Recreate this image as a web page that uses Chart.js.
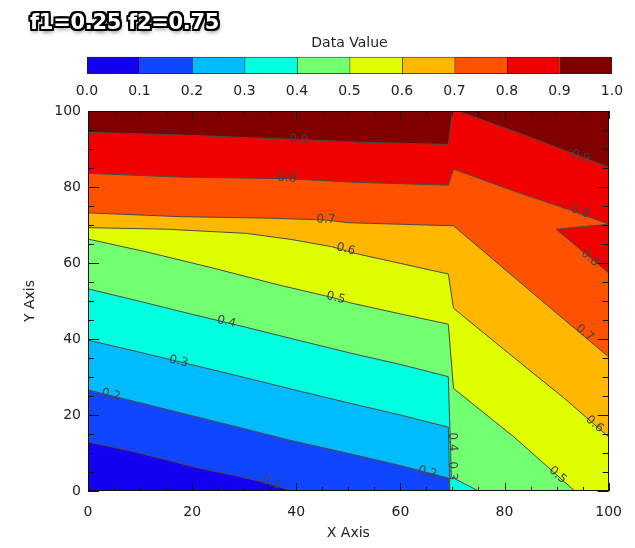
<!DOCTYPE html>
<html>
<head>
<meta charset="utf-8">
<script src="https://cdn.jsdelivr.net/npm/chart.js@4.4.0/dist/chart.umd.min.js"></script>
<style>
  html, body { margin: 0; padding: 0; background: #fff; }
  #wrap { position: relative; width: 635px; height: 548px; overflow: hidden; }
  #plot, #bar { position: absolute; left: 0; top: 0; }
  #title {
    position: absolute; left: 30px; top: 12px;
    font: bold 21px "DejaVu Sans"; line-height: 20px; letter-spacing: -0.3px;
    color: #fff; white-space: nowrap;
    text-shadow: -2px -2px 0 #000, 2px -2px 0 #000, -2px 2px 0 #000, 2px 2px 0 #000,
                 0 -2px 0 #000, 0 2px 0 #000, -2px 0 0 #000, 2px 0 0 #000,
                 1px 3px 4px rgba(0,0,0,0.6);
  }
</style>
</head>
<body>
<div id="wrap">
  <canvas id="plot" width="635" height="548"></canvas>
  <canvas id="bar" width="635" height="100"></canvas>
  <div id="title">f1=0.25 f2=0.75</div>
</div>
<script>
// levels and colours of the filled bands
const levels = [0.0, 0.1, 0.2, 0.3, 0.4, 0.5, 0.6, 0.7, 0.8, 0.9, 1.0];
const bandColors = ["#1400f0", "#1046ff", "#00bcff", "#00ffdf", "#72ff72",
                    "#dfff00", "#ffb700", "#ff5200", "#f00000", "#800000"];

const axisTicks = [0, 20, 40, 60, 80, 100];
const xRange = [0, 100];
const yRange = [0, 100];

// contour lines as [x, y]
const contour01 = [[0,12.9],[8,10.6],[15,8.2],[21.4,6.0],[27.7,4.2],[34.2,2.2],[39.2,0]];
const contour02 = [[0,26.6],[10,23.2],[20,19.8],[30,16.4],[38.6,13.4],[50,9.9],[59.7,6.8],[69.2,3.4],[69.3,0]];
const contour03 = [[0,39.7],[10,36.5],[20,33.2],[30,29.9],[40,26.5],[50,23.2],[60,20.0],[69.2,16.8],[69.5,0]];
const contour04 = [[0,53.2],[10,49.9],[20,46.5],[30,43.2],[40,39.8],[50.1,36.4],[60,33.3],[69.2,30.1],[69.8,3.7],[75,0]];
const contour05 = [[0,66.3],[11.3,62.9],[23.9,58.7],[36.7,54.2],[47.6,50.7],[50.1,49.6],[60,46.6],[69.2,43.9],[70.2,27],[82,14],[93.5,0]];
const contour06 = [[0,69.3],[15,68.9],[30.4,67.8],[39,66.2],[46.8,64.3],[51.4,62.5],[60,59.9],[69.2,57.1],[70.2,48.1],[82,34.9],[92,23.8],[100,14.2]];
const contour07 = [[0,73.2],[17.6,72.2],[35,71.8],[45.7,71.3],[50.1,70.6],[60,70.2],[70.2,69.8],[80,58.4],[90,46.8],[100,35.3]];
const contour08 = [[0,83.6],[17.6,82.6],[38,82.2],[52,81.2],[69.2,80.5],[70.2,84.7],[82.5,78.6],[92.7,73.9],[100,70.2],[89.9,68.9],[100,57.4]];
const contour09 = [[0,94.4],[17.6,93.7],[40.5,92.5],[52,91.8],[69.2,91.2],[70.0,100],[71.0,100],[82,94.6],[94.7,88],[100,85.2]];
const contours = [contour01, contour02, contour03, contour04, contour05, contour06, contour07, contour08, contour09];

// contour labels: value and where it sits
const labelValue = [0.9, 0.9, 0.8, 0.8, 0.8, 0.7, 0.7, 0.6, 0.6, 0.5, 0.5, 0.4, 0.4, 0.3, 0.3, 0.2, 0.2, 0.1];
const labelX     = [40.5, 94.6, 38.2, 94.5, 96.4, 45.7, 95.4, 49.5, 97.3, 47.6, 90.2, 26.6, 70.0, 17.4, 70.0, 4.4, 65.2, 35.2];
const labelY     = [92.5, 88.0, 82.3, 73.5, 61.3, 71.4, 41.6, 63.6, 17.6, 50.8, 4.2, 44.5, 12.9, 34.1, 5.3, 25.3, 4.9, 2.1];

const FONT = "DejaVu Sans";
const TEXT = "#222";

const toPts = arr => arr.map(([x, y]) => ({ x, y }));
const frameCorners = [[xRange[1], yRange[0]], [xRange[1], yRange[1]], [xRange[0], yRange[1]]];

const datasets = [];
// whole plot in the lowest band colour
datasets.push({
  data: toPts([[xRange[0], yRange[0]]].concat(frameCorners)),
  backgroundColor: bandColors[0], borderColor: "rgba(0,0,0,0)", borderWidth: 0,
  fill: "shape", showLine: true, pointRadius: 0, order: 100
});
// region above each contour, painted in increasing order
contours.forEach((c, i) => {
  datasets.push({
    data: toPts(c.concat(frameCorners)),
    backgroundColor: bandColors[i + 1], borderColor: "rgba(0,0,0,0)", borderWidth: 0,
    fill: "shape", showLine: true, pointRadius: 0, order: 99 - i
  });
});
// the contour lines on top
contours.forEach(c => {
  datasets.push({
    data: toPts(c), borderColor: "#4a4a4a", borderWidth: 1,
    fill: false, showLine: true, pointRadius: 0, order: 1
  });
});

function segDist(px, py, a, b) {
  const dx = b[0] - a[0], dy = b[1] - a[1];
  const len = dx * dx + dy * dy || 1;
  let t = ((px - a[0]) * dx + (py - a[1]) * dy) / len;
  t = Math.max(0, Math.min(1, t));
  return Math.hypot(px - (a[0] + t * dx), py - (a[1] + t * dy));
}

const contourLabels = {
  id: "contourLabels",
  afterDatasetsDraw(chart) {
    const { ctx, scales: { x, y } } = chart;
    ctx.save();
    ctx.font = "12px '" + FONT + "'";
    ctx.fillStyle = "#444";
    ctx.textAlign = "center";
    ctx.textBaseline = "middle";
    labelValue.forEach((v, k) => {
      const c = contours[Math.round(v * 10) - 1];
      const px = x.getPixelForValue(labelX[k]);
      const py = y.getPixelForValue(labelY[k]);
      const pts = c.map(([u, w]) => [x.getPixelForValue(u), y.getPixelForValue(w)]);
      let best = Infinity, ang = 0;
      for (let j = 0; j < pts.length - 1; j++) {
        const d = segDist(px, py, pts[j], pts[j + 1]);
        if (d < best) {
          best = d;
          ang = Math.atan2(pts[j + 1][1] - pts[j][1], pts[j + 1][0] - pts[j][0]);
        }
      }
      if (ang > Math.PI / 2) ang -= Math.PI;
      if (ang < -Math.PI / 2) ang += Math.PI;
      ctx.save();
      ctx.translate(px, py);
      ctx.rotate(ang);
      ctx.fillText(v.toFixed(1), 0, 0);
      ctx.restore();
    });
    ctx.restore();
  }
};

// box with inward ticks on all four sides
const frame = {
  id: "frame",
  afterDatasetsDraw(chart) {
    const { ctx, chartArea: a, scales: { x, y } } = chart;
    ctx.save();
    ctx.strokeStyle = "#111";
    ctx.lineWidth = 1;
    ctx.strokeRect(Math.round(a.left) + 0.5, Math.round(a.top) + 0.5,
                   Math.round(a.width) - 1, Math.round(a.height) - 1);
    ctx.beginPath();
    for (let v = xRange[0]; v <= xRange[1]; v += 5) {
      const major = axisTicks.includes(v);
      const px = Math.round(x.getPixelForValue(v)) + 0.5;
      const lx = major ? 8 : 4;
      ctx.moveTo(px, a.bottom); ctx.lineTo(px, a.bottom - lx);
      ctx.moveTo(px, a.top); ctx.lineTo(px, a.top + lx);
    }
    for (let v = yRange[0]; v <= yRange[1]; v += 5) {
      const major = axisTicks.includes(v);
      const py = Math.round(y.getPixelForValue(v)) + 0.5;
      const ly = major ? 11 : 6;
      ctx.moveTo(a.left, py); ctx.lineTo(a.left + ly, py);
      ctx.moveTo(a.right, py); ctx.lineTo(a.right - ly, py);
    }
    ctx.stroke();
    ctx.restore();
  }
};

new Chart(document.getElementById("plot"), {
  type: "scatter",
  data: { datasets },
  options: {
    responsive: false,
    animation: false,
    events: [],
    layout: { padding: { top: 111, right: 24, bottom: 0, left: 0 } },
    plugins: { legend: { display: false }, tooltip: { enabled: false } },
    scales: {
      x: {
        type: "linear", min: xRange[0], max: xRange[1],
        afterBuildTicks: s => { s.ticks = axisTicks.map(v => ({ value: v })); },
        afterFit: s => { s.height = 57; },
        grid: { display: false, drawTicks: false },
        border: { display: false },
        ticks: { font: { family: FONT, size: 14 }, color: TEXT, padding: 13, maxRotation: 0 },
        title: { display: true, text: "X Axis", font: { family: FONT, size: 14 }, color: TEXT, padding: { top: 0, bottom: 6 } }
      },
      y: {
        type: "linear", min: yRange[0], max: yRange[1],
        afterBuildTicks: s => { s.ticks = axisTicks.map(v => ({ value: v })); },
        afterFit: s => { s.width = 88; },
        grid: { display: false, drawTicks: false },
        border: { display: false },
        ticks: { font: { family: FONT, size: 14 }, color: TEXT, padding: 7 },
        title: { display: true, text: "Y Axis", font: { family: FONT, size: 14 }, color: TEXT, padding: { top: 22, bottom: 0 } }
      }
    }
  },
  plugins: [contourLabels, frame]
});

// colour bar
const last = bandColors.length - 1;
new Chart(document.getElementById("bar"), {
  type: "bar",
  data: {
    labels: [""],
    datasets: bandColors.map((c, i) => ({
      data: [[levels[i], levels[i + 1]]],
      backgroundColor: c,
      borderColor: "#222",
      borderWidth: i === last ? 1 : { top: 1, bottom: 1, left: 1, right: 0 },
      borderSkipped: false,
      barPercentage: 1,
      categoryPercentage: 1,
      grouped: false
    }))
  },
  options: {
    indexAxis: "y",
    responsive: false,
    animation: false,
    events: [],
    layout: { padding: { top: 0, left: 87, right: 23, bottom: 0 } },
    plugins: {
      legend: { display: false },
      tooltip: { enabled: false },
      title: {
        display: true, text: "Data Value", fullSize: false,
        font: { family: FONT, size: 14, weight: "normal" }, color: TEXT,
        padding: { top: 35, bottom: 5 }
      }
    },
    scales: {
      y: { display: false },
      x: {
        min: levels[0], max: levels[levels.length - 1],
        afterBuildTicks: s => { s.ticks = levels.map(v => ({ value: v })); },
        afterFit: s => { s.height = 26; },
        grid: { display: false, drawTicks: false },
        border: { display: false },
        ticks: { callback: v => v.toFixed(1), font: { family: FONT, size: 14 }, color: TEXT, padding: 9, maxRotation: 0, autoSkip: false }
      }
    }
  }
});
</script>
</body>
</html>
